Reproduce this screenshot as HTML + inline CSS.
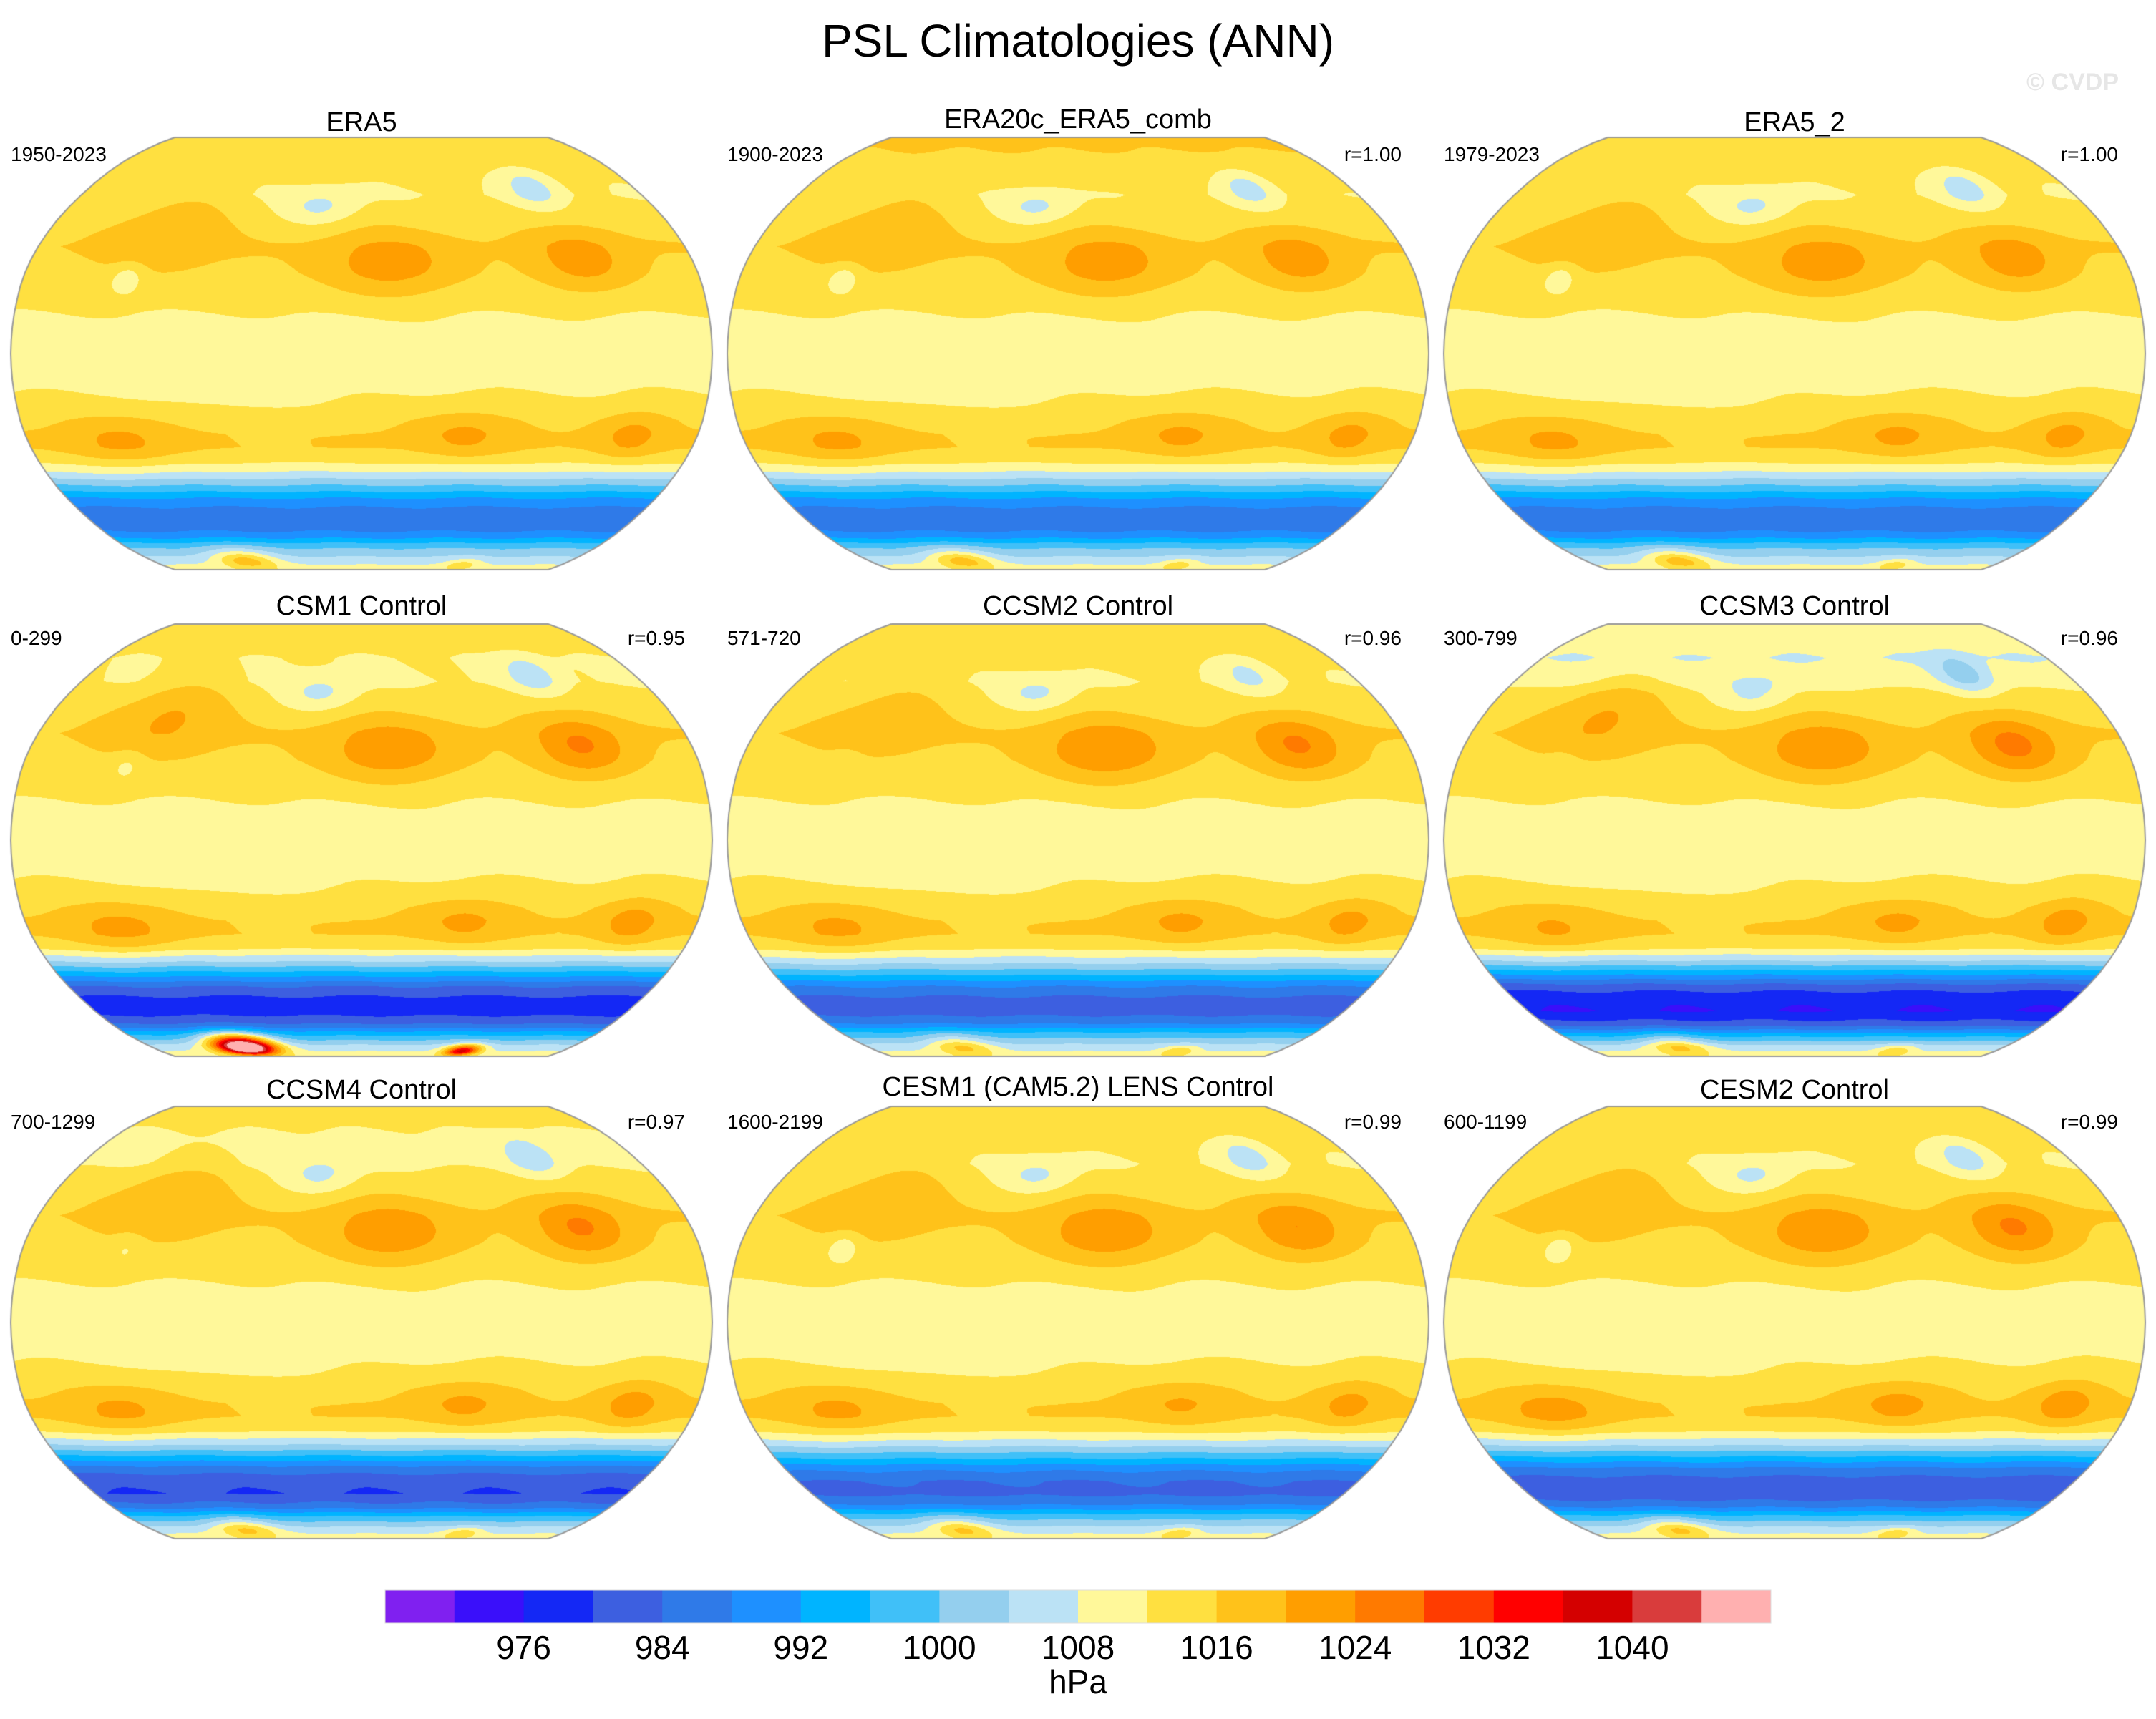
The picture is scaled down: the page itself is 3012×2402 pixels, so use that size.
<!DOCTYPE html>
<html><head><meta charset="utf-8">
<style>
html,body{margin:0;padding:0;background:#fff;}
#wrap{position:relative;width:3012px;height:2402px;overflow:hidden;font-family:"Liberation Sans",sans-serif;color:#000;}
canvas{position:absolute;left:0;top:0;}
.t{position:absolute;white-space:nowrap;}
</style></head><body>
<div id="wrap">
<canvas id="cv" width="3012" height="2402"></canvas>
<div class="t" style="left:0;width:3012px;text-align:center;top:20px;font-size:64px;">PSL Climatologies (ANN)</div>
<div class="t" style="right:52px;top:96px;font-size:34px;font-weight:bold;color:#e6e6e6;">© CVDP</div>
<div id="labels"></div>
<svg id="cb" width="3012" height="2402" style="position:absolute;left:0;top:0"></svg>
</div>
<script>
// ---- data ----
const levelBoundaries=[972,976,980,984,988,992,996,1000,1004,1008,1012,1016,1020,1024,1028,1032,1036,1040,1044];
const levelColors=["#8020f0","#3a0ffa","#1428f5","#3d5fe0","#2f7ae8","#1e90ff","#00b4ff","#40c0f8","#94cfee","#bbe2f5","#fff89a","#ffe040","#ffc21a","#ff9e00","#ff7a00","#ff3c00","#ff0000","#d40000","#d93c3c","#ffb0b0"];
const tickLabels=[976,984,992,1000,1008,1016,1024,1032,1040];
const panelTitles=["ERA5","ERA20c_ERA5_comb","ERA5_2","CSM1 Control","CCSM2 Control","CCSM3 Control","CCSM4 Control","CESM1 (CAM5.2) LENS Control","CESM2 Control"];
const panelYears=["1950-2023","1900-2023","1979-2023","0-299","571-720","300-799","700-1299","1600-2199","600-1199"];
const panelCorr=["","r=1.00","r=1.00","r=0.95","r=0.96","r=0.96","r=0.97","r=0.99","r=0.99"];
const zonalLats=[-90,-85,-80,-75,-70,-65,-60,-55,-50,-45,-40,-35,-30,-25,-20,-10,0,10,20,30,40,50,60,70,80,90];
const zonalVals=[1011,1008,1004,999,990,985,986,991,999,1007,1013,1016,1016,1015,1013,1011,1010,1011,1013,1015,1016,1014,1012,1013,1015,1016];
// per-panel: southern-ocean shift, arctic shift
const southShift=[0,0,0,-7,-3,-9,-5,-2,-4];
const arcticShift=[0,1,0,-1,0,-5,-2,0,0];
// base blobs: lon(E), lat, amplitude(hPa), lon-width, lat-width
const blobLon=[225,330,185,322,100,265,355,80,85,110,300,150];
const blobLat=[33,35,55,63,48,-30,-30,-33,28,-82,-85,-12];
const blobAmp=[7,7,-6,-7,5,5,5.5,5,-6,12,6,-2];
const blobSx=[35,25,22,16,30,25,18,28,8,25,15,45];
const blobSy=[12,12,7,8,14,9,9,9,5,6,4,10];
// per-panel amplitude multipliers for the blobs
const panelBlobScale=[
 [1,1,1,1,1,1,1,1,1,1,1,1],
 [1,1,1,1,1,1,1,1,1,1,1,1],
 [1,1,1,1,1,1,1,1,1,1,1,1],
 [1.1,1.3,1,1,1.2,1,1.1,1.1,0.6,4.5,5,1],
 [1.2,1.3,1,0.8,0.8,1,1,1,0.4,0.9,1.2,1],
 [1.1,1.4,1,1.2,1.2,1,1.1,0.9,0.3,0.9,1.2,1],
 [1.1,1.3,1,1,1.1,1,1.1,1,0.5,0.9,1.2,1],
 [1.1,1.2,1,1,1,0.9,1,1,1,0.9,1.2,1],
 [1.1,1.3,1,1,1.1,1.1,1.2,1.2,1,0.9,1.2,1]
];
// ---- layout ----
const colCx=[505,1506,2507], rowCy=[494,1174,1848], W=490, H=302, lon0=210;
const rT=[0,.062,.124,.186,.248,.31,.372,.434,.4958,.5571,.6176,.6769,.7346,.7903,.8435,.8936,.9394,.9761,1];
const rX=[1,.9986,.9954,.99,.9822,.973,.96,.9427,.9216,.8962,.8679,.835,.7986,.7597,.7186,.6732,.6213,.5722,.5322];
function latFromY(y){let a=Math.abs(y);for(let i=0;i<18;i++){if(a<=rT[i+1]){let f=(a-rT[i])/(rT[i+1]-rT[i]);return [Math.sign(y)*(5*i+5*f),rX[i]+(rX[i+1]-rX[i])*f];}}return [Math.sign(y)*90,rX[18]];}
function zonal(lat){for(let i=0;i<zonalLats.length-1;i++){if(lat<=zonalLats[i+1]){let f=(lat-zonalLats[i])/(zonalLats[i+1]-zonalLats[i]);return zonalVals[i]+(zonalVals[i+1]-zonalVals[i])*f;}}return zonalVals[zonalVals.length-1];}
function field(p,lon,lat){
 let v=zonal(lat);
 if(lat<-40) v+=southShift[p]*Math.min(1,(-40-lat)/15)*(lat<-72?Math.max(0,1-(-72-lat)/10):1);
 if(lat>55) v+=arcticShift[p]*Math.min(1,(lat-55)/15);
 for(let b=0;b<blobLon.length;b++){let dl=lon-blobLon[b];dl=((dl+540)%360)-180;
  let dx=dl/blobSx[b],dy=(lat-blobLat[b])/blobSy[b];v+=blobAmp[b]*panelBlobScale[p][b]*Math.exp(-(dx*dx+dy*dy));}
 v+=0.5*Math.sin(lon*Math.PI/40+lat/7)*Math.cos(lat*Math.PI/60);
 return v;}
function colorIdx(v){let i=0;while(i<levelBoundaries.length&&v>=levelBoundaries[i])i++;return i;}
const rgb=levelColors.map(c=>[parseInt(c.substr(1,2),16),parseInt(c.substr(3,2),16),parseInt(c.substr(5,2),16)]);
const cv=document.getElementById('cv'),ctx=cv.getContext('2d');
for(let p=0;p<9;p++){
 const cx=colCx[p%3],cy=rowCy[Math.floor(p/3)];
 const img=ctx.createImageData(2*W,2*H);
 for(let py=0;py<2*H;py++){const yy=(H-py-0.5)/H;const [lat,xf]=latFromY(yy);const hw=W*xf;
  for(let px=0;px<2*W;px++){const dx=px-W+0.5;if(Math.abs(dx)>hw)continue;
   const lon=lon0+dx/hw*180;const c=rgb[colorIdx(field(p,lon,lat))];const k=(py*2*W+px)*4;
   img.data[k]=c[0];img.data[k+1]=c[1];img.data[k+2]=c[2];img.data[k+3]=255;}}
 ctx.putImageData(img,cx-W,cy-H);
 ctx.beginPath();
 const pts=[];for(let i=0;i<=18;i++)pts.push([W*rX[i],H*rT[i]]);
 ctx.moveTo(cx-pts[18][0],cy-H);ctx.lineTo(cx+pts[18][0],cy-H);
 for(let i=17;i>=0;i--)ctx.lineTo(cx+pts[i][0],cy-pts[i][1]);
 for(let i=1;i<=18;i++)ctx.lineTo(cx+pts[i][0],cy+pts[i][1]);
 ctx.lineTo(cx-pts[18][0],cy+H);
 for(let i=17;i>=0;i--)ctx.lineTo(cx-pts[i][0],cy+pts[i][1]);
 for(let i=1;i<=18;i++)ctx.lineTo(cx-pts[i][0],cy-pts[i][1]);
 ctx.strokeStyle='#999';ctx.lineWidth=2;ctx.stroke();
}
// labels
const lab=document.getElementById('labels');
const titleY=[150,826,1502],yrY=[200,876,1552];
for(let p=0;p<9;p++){
 const c=p%3,r=Math.floor(p/3);
 const t=document.createElement('div');t.className='t';
 
 
 t.style.cssText=`left:${colCx[c]-500}px;width:1000px;text-align:center;top:${titleY[r]-(p==1||p==7?4:0)}px;font-size:38px;`;t.textContent=panelTitles[p];lab.appendChild(t);
 const y=document.createElement('div');y.className='t';
 
 
 y.style.cssText=`left:${colCx[c]-490}px;top:${yrY[r]}px;font-size:28px;`;y.textContent=panelYears[p];lab.appendChild(y);
 if(panelCorr[p]){const k=document.createElement('div');k.className='t';
  
  
  k.style.cssText=`right:${3012-(colCx[c]+452)}px;top:${yrY[r]}px;font-size:28px;`;k.textContent=panelCorr[p];lab.appendChild(k);}
}
// colorbar
const cb=document.getElementById('cb'),NS='http://www.w3.org/2000/svg';
const cbX0=538,cbX1=2474,cbY=2222,cbH=46,bw=(cbX1-cbX0)/levelColors.length;
levelColors.forEach((c,i)=>{const r=document.createElementNS(NS,'rect');
 
 
 r.setAttribute('x',cbX0+i*bw);r.setAttribute('y',cbY);r.setAttribute('width',bw+0.5);r.setAttribute('height',cbH);r.setAttribute('fill',c);cb.appendChild(r);});
const ol=document.createElementNS(NS,'rect');


ol.setAttribute('x',cbX0);ol.setAttribute('y',cbY);ol.setAttribute('width',cbX1-cbX0);ol.setAttribute('height',cbH);ol.setAttribute('fill','none');ol.setAttribute('stroke','#ddd');ol.setAttribute('stroke-width','1');cb.appendChild(ol);
tickLabels.forEach(v=>{const i=levelBoundaries.indexOf(v)+1;const tx=document.createElementNS(NS,'text');
 
 
 tx.setAttribute('x',cbX0+i*bw);tx.setAttribute('y',2318);tx.setAttribute('text-anchor','middle');tx.setAttribute('font-size','46');tx.setAttribute('font-family','Liberation Sans, sans-serif');tx.textContent=v;cb.appendChild(tx);});
const un=document.createElementNS(NS,'text');


un.setAttribute('x',1506);un.setAttribute('y',2366);un.setAttribute('text-anchor','middle');un.setAttribute('font-size','46');un.setAttribute('font-family','Liberation Sans, sans-serif');un.textContent='hPa';cb.appendChild(un);
</script>
</body></html>
